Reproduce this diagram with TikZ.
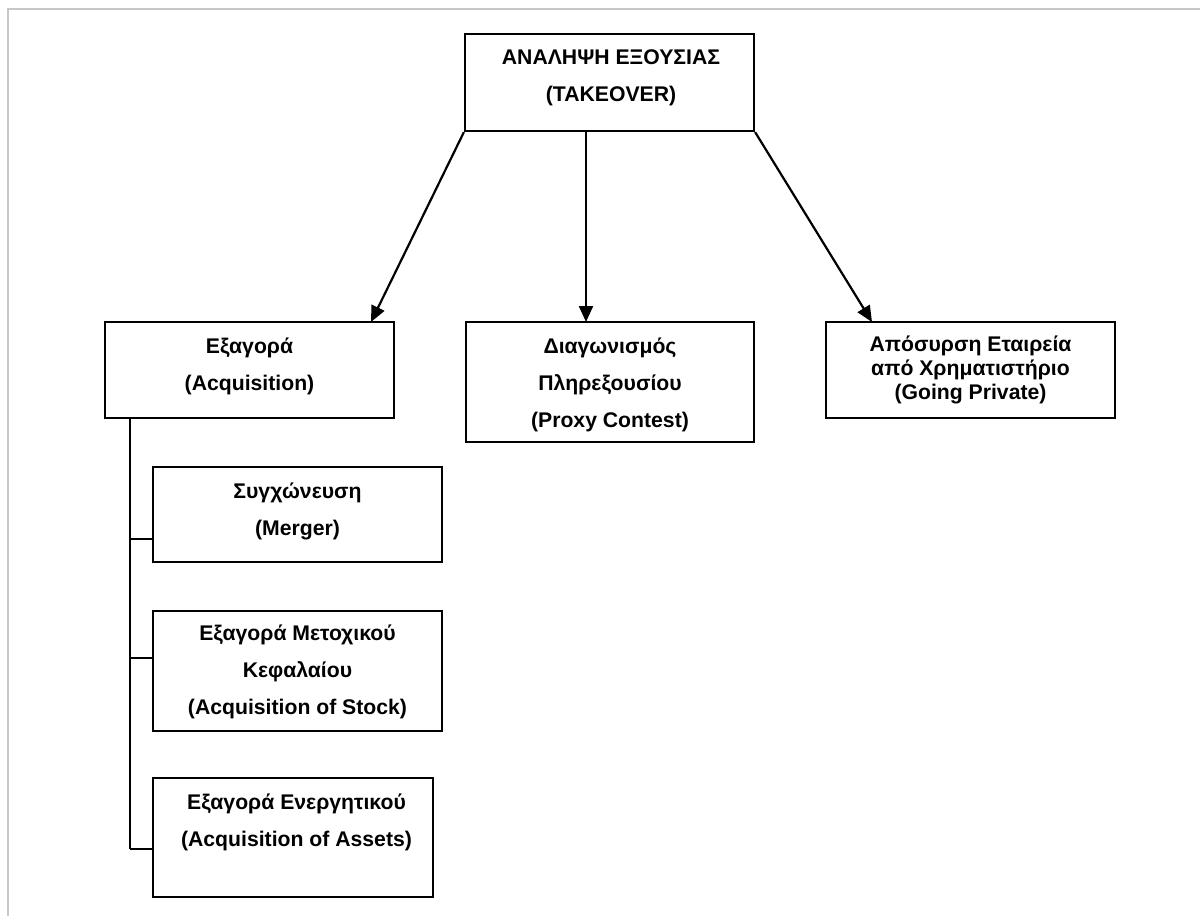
\documentclass[tikz,border=0pt]{standalone}
\usepackage{fontspec}
\setmainfont{Liberation Sans}
\usetikzlibrary{arrows.meta}
\begin{document}
\begin{tikzpicture}[x=1pt,y=-1pt,
  box/.style={draw=black,line width=2.2pt,rectangle,inner sep=0pt,fill=white},
  lbl/.style={align=center,font=\bfseries\fontsize{21.2}{37}\selectfont,inner sep=0pt},
  tight/.style={font=\bfseries\fontsize{21.2}{24}\selectfont},
  arr/.style={line width=2.2pt,-{Triangle[length=16pt,width=14pt]}},
  link/.style={line width=2.2pt}]
\useasboundingbox (0,0) rectangle (1200,916);
\fill[white] (0,0) rectangle (1200,916);
\draw[black!22,line width=2pt] (8,916) -- (8,9) -- (1200,9);

% boxes
\node[box,minimum width=289pt,minimum height=97pt] (T) at (609.5,82.5) {};
\node[box,minimum width=289pt,minimum height=96pt] (A) at (249.5,370) {};
\node[box,minimum width=288pt,minimum height=120pt] (P) at (610,382) {};
\node[box,minimum width=289pt,minimum height=96pt] (G) at (970.5,370) {};
\node[box,minimum width=289pt,minimum height=95pt] (M) at (297.5,514.5) {};
\node[box,minimum width=289pt,minimum height=120pt] (S) at (297.5,671) {};
\node[box,minimum width=280pt,minimum height=119pt] (X) at (293,837.5) {};

% labels
\node[lbl] (tT) at (611,78) {ΑΝΑΛΗΨΗ ΕΞΟΥΣΙΑΣ\\(TAKEOVER)};
\node[lbl] (tA) at (249.5,366) {Εξαγορά\\(Acquisition)};
\node[lbl] (tP) at (610,385) {Διαγωνισμός\\Πληρεξουσίου\\(Proxy Contest)};
\node[lbl,tight] (tG) at (970.5,370) {Απόσυρση Εταιρεία\\από Χρηματιστήριο\\(Going Private)};
\node[lbl] (tM) at (297.5,511) {Συγχώνευση\\(Merger)};
\node[lbl] (tS) at (297.5,672) {Εξαγορά Μετοχικού\\Κεφαλαίου\\(Acquisition of Stock)};
\node[lbl] (tX) at (296.5,822) {Εξαγορά Ενεργητικού\\(Acquisition of Assets)};

% arrows
\coordinate (a1) at (371,322);
\coordinate (m0) at (586,131);
\coordinate (a2) at (586,322);
\coordinate (a3) at (872,322);
\draw[arr] (T.south west) -- (a1);
\draw[arr] (m0) -- (a2);
\draw[arr] (T.south east) -- (a3);

% bracket
\coordinate (b0) at (130,418);
\coordinate (b1) at (130,539);
\coordinate (b2) at (130,658);
\coordinate (b3) at (130,849);
\draw[link] (b0) -- (b3);
\draw[link] (b1) -- (b1 -| M.west);
\draw[link] (b2) -- (b2 -| S.west);
\draw[link] (b3) -- (b3 -| X.west);
\end{tikzpicture}
\end{document}
